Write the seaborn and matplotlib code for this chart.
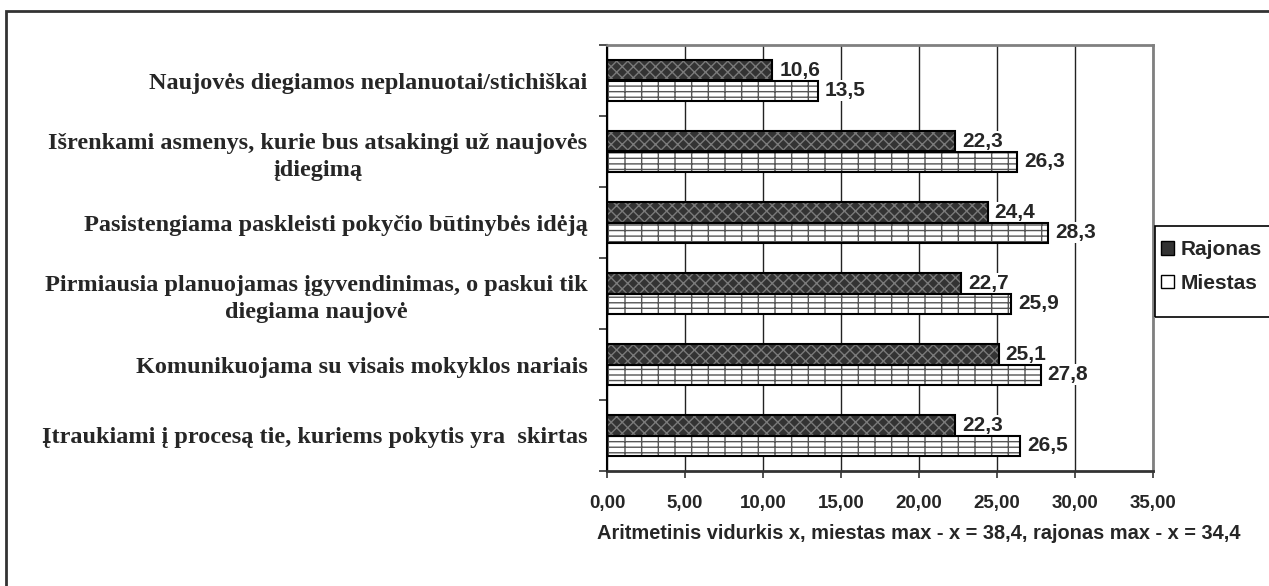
import numpy as np
import pandas as pd
import matplotlib
matplotlib.use("Agg")
import matplotlib.pyplot as plt
import seaborn as sns
from matplotlib.patches import Rectangle
from matplotlib.ticker import FixedLocator, FuncFormatter

# --- data ---
categories = [
    "Naujovės diegiamos neplanuotai/stichiškai",
    "Išrenkami asmenys, kurie bus atsakingi už naujovės\nįdiegimą",
    "Pasistengiama paskleisti pokyčio būtinybės idėją",
    "Pirmiausia planuojamas įgyvendinimas, o paskui tik\ndiegiama naujovė",
    "Komunikuojama su visais mokyklos nariais",
    "Įtraukiami į procesą tie, kuriems pokytis yra  skirtas",
]
rajonas = [10.6, 22.3, 24.4, 22.7, 25.1, 22.3]
miestas = [13.5, 26.3, 28.3, 25.9, 27.8, 26.5]
groups = ["Rajonas", "Miestas"]
x_ticks = [0, 5, 10, 15, 20, 25, 30, 35]
x_label = "Aritmetinis vidurkis x, miestas max - x = 38,4, rajonas max - x = 34,4"

df = pd.DataFrame({
    "kategorija": categories * 2,
    "vidurkis": rajonas + miestas,
    "grupe": [groups[0]] * len(categories) + [groups[1]] * len(categories),
})

sns.set_style("white")
plt.rcParams["font.family"] = ["Liberation Sans", "DejaVu Sans"]
plt.rcParams["hatch.linewidth"] = 1.0

fig = plt.figure(figsize=(12.69, 5.86), dpi=100)
ax = fig.add_axes([607 / 1269, 1 - 471 / 586, (1153 - 607) / 1269, (471 - 45) / 586])

sns.barplot(data=df, y="kategorija", x="vidurkis", hue="grupe", orient="h",
            palette={"Rajonas": "#333333", "Miestas": "#ffffff"},
            width=0.57, dodge=True, gap=0, linewidth=0, ax=ax, legend=False)

# patterns: hatch colour follows edge colour, outline drawn on top
styles = {0: ("#7a7a7a", "xxx"), 1: ("#555555", "---|")}
for i, cont in enumerate(ax.containers):
    hcol, hatch = styles[i]
    for bar in cont:
        bar.set_edgecolor(hcol)
        bar.set_linewidth(0)
        bar.set_hatch(hatch)
        outline = Rectangle(bar.get_xy(), bar.get_width(), bar.get_height(),
                            fill=False, edgecolor="black", linewidth=1.5, zorder=3)
        ax.add_patch(outline)
    vals = rajonas if i == 0 else miestas
    ax.bar_label(cont, labels=[f"{v:.1f}".replace(".", ",") for v in vals],
                 padding=5, fontsize=15, fontweight="bold",
                 bbox=dict(facecolor="white", edgecolor="none", pad=0.5))

ax.set_xlim(0, 35)
ax.set_ylim(len(categories) - 0.5, -0.5)
ax.xaxis.set_major_locator(FixedLocator(x_ticks))
ax.xaxis.set_major_formatter(FuncFormatter(lambda v, p: f"{v:.2f}".replace(".", ",")))
ax.grid(axis="x", color="#222222", linewidth=1)
ax.set_axisbelow(True)

for s in ["top", "right"]:
    ax.spines[s].set_color("#808080")
    ax.spines[s].set_linewidth(2)
ax.spines["left"].set_color("black")
ax.spines["left"].set_linewidth(1.5)
ax.spines["bottom"].set_color("#333333")
ax.spines["bottom"].set_linewidth(2)

ax.tick_params(axis="x", bottom=True, length=5, width=1.2, color="#333333",
               labelsize=13.5, pad=12)
for t in ax.get_xticklabels():
    t.set_fontweight("bold")

ax.yaxis.set_minor_locator(FixedLocator(np.arange(-0.5, len(categories), 1)))
ax.tick_params(axis="y", which="major", length=0, pad=14)
ax.tick_params(axis="y", which="minor", left=True, length=6, width=1.2, color="#333333")
for t in ax.get_yticklabels():
    t.set_fontfamily(["Liberation Serif", "DejaVu Serif"])
    t.set_fontweight("bold")
    t.set_fontsize(17.5)
    t.set_multialignment("center")
    t.set_linespacing(1.35)

ax.set_ylabel("")
ax.set_xlabel(x_label, fontsize=14.4, fontweight="bold", labelpad=8)
ax.xaxis.set_label_coords((919 - 607) / 546, -0.125)

# legend: frame drawn as a separate box like the original's clipped legend
handles = [Rectangle((0, 0), 1, 1, facecolor="#333333", edgecolor="black", linewidth=1),
           Rectangle((0, 0), 1, 1, facecolor="white", edgecolor="black", linewidth=1, hatch="-")]
leg = fig.legend(handles, groups, loc="upper left",
                 bbox_to_anchor=(1155 / 1269, 1 - 234 / 586),
                 frameon=False,
                 handlelength=0.6, handleheight=0.6, handletextpad=0.35,
                 labelspacing=0.7, borderpad=0.3, borderaxespad=0,
                 prop={"weight": "bold", "size": 15})
fig.add_artist(Rectangle((1155 / 1269, 1 - 317 / 586), 0.2, 91 / 586,
                         transform=fig.transFigure, fill=False,
                         edgecolor="black", linewidth=1.2))

# outer chart frame
fig.add_artist(Rectangle((6 / 1269, -0.05), 1.1, 1.05 - 11 / 586,
                         transform=fig.transFigure, fill=False,
                         edgecolor="#333333", linewidth=2))

fig.savefig("out.png", dpi=100)
